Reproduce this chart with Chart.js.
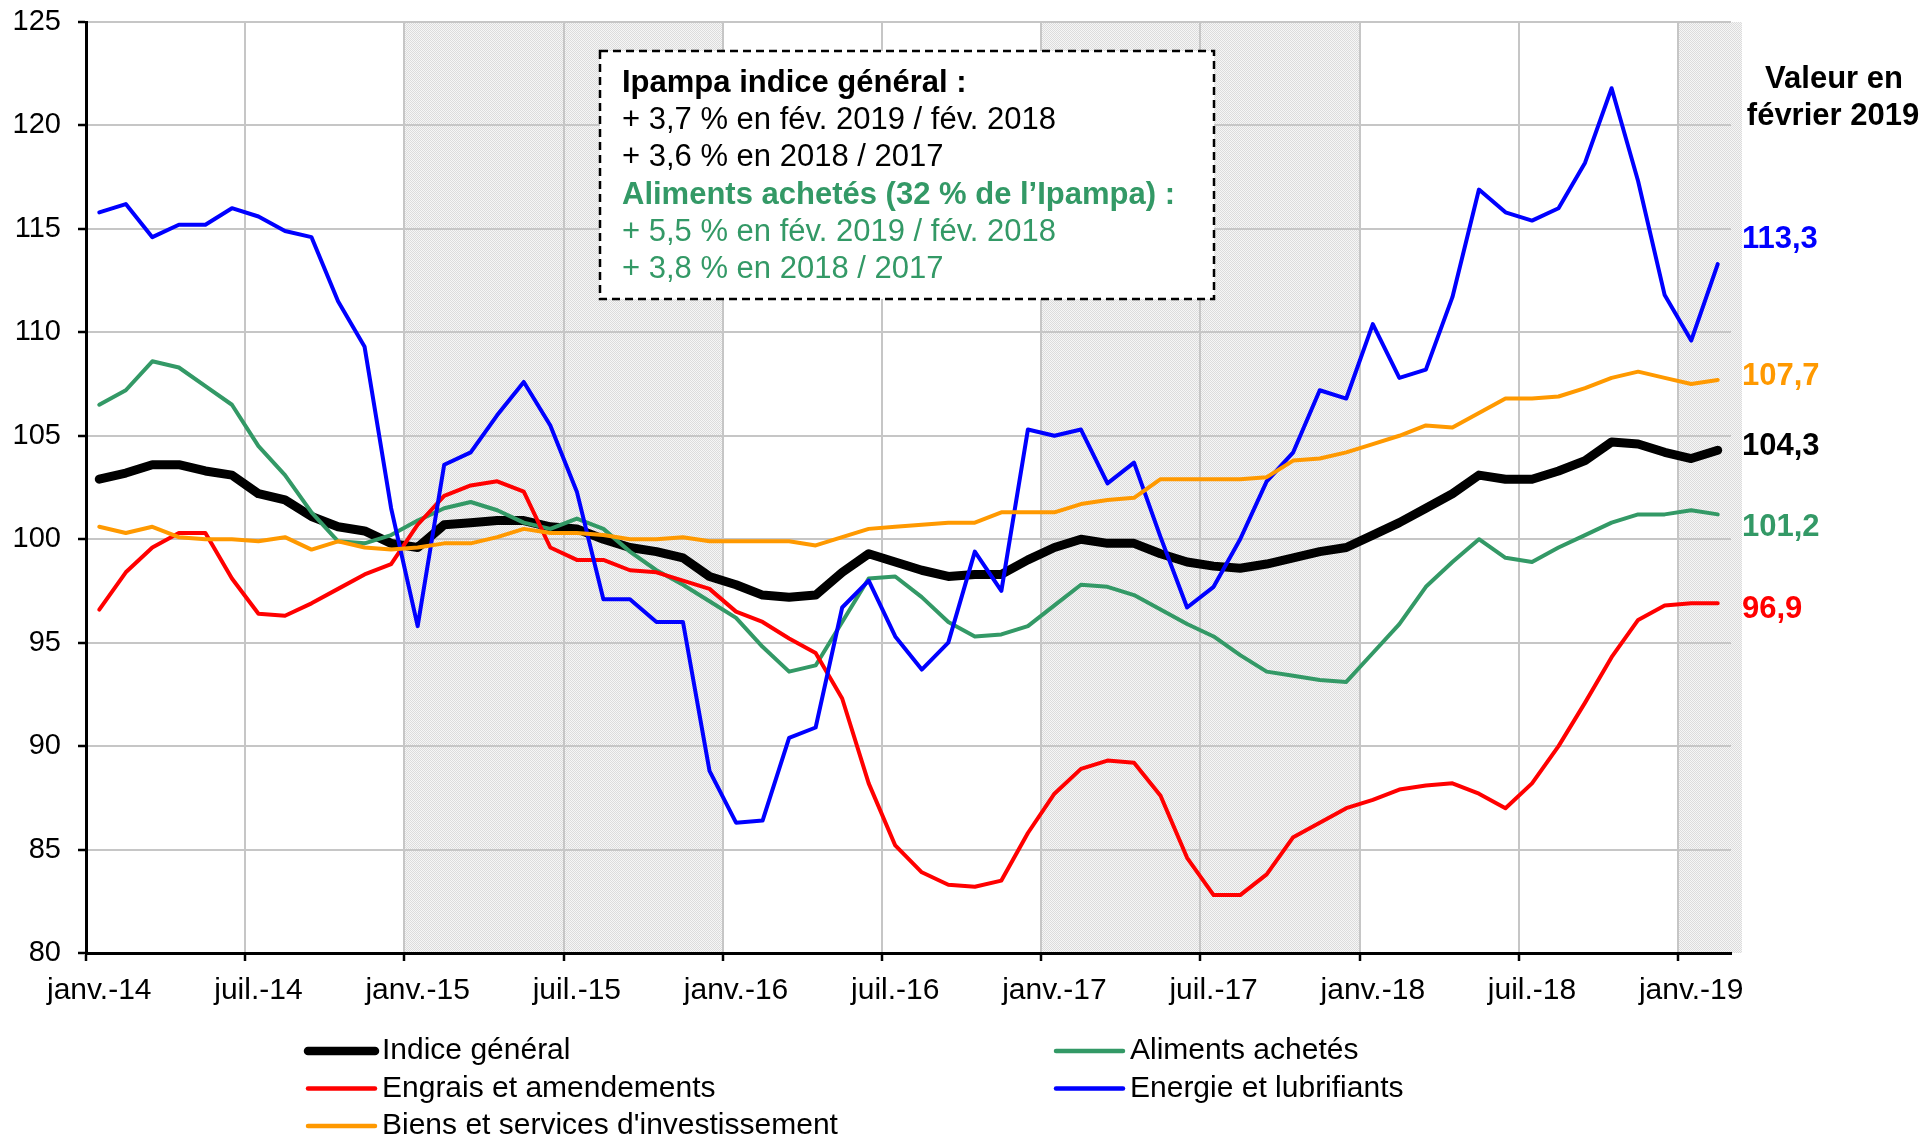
<!DOCTYPE html>
<html lang="fr">
<head>
<meta charset="utf-8">
<title>Ipampa – indices mensuels</title>
<script src="https://cdn.jsdelivr.net/npm/chart.js@4.4.1/dist/chart.umd.min.js"></script>
<style>
  html, body { margin: 0; padding: 0; background: #fff; }
  #wrap { width: 1921px; height: 1138px; }
</style>
</head>
<body>
<div id="wrap"><canvas id="chart-ipampa" width="1921" height="1138"></canvas></div>
<script>
// ---------- Données (base 100 = 2015) ----------
const MOIS   = ["janv.", "févr.", "mars", "avr.", "mai", "juin", "juil.", "août", "sept.", "oct.", "nov.", "déc."];
const ANNEES = ["14", "15", "16", "17", "18", "19"];
const NB_MOIS = 62; // janv. 2014 -> févr. 2019

const indiceGeneral = [
  102.9, 103.2, 103.6, 103.6, 103.3, 103.1, 102.2, 101.9, 101.1, 100.6, 100.4, 99.8,
  99.6, 100.7, 100.8, 100.9, 100.9, 100.6, 100.5, 100.0, 99.6, 99.4, 99.1, 98.2,
  97.8, 97.3, 97.2, 97.3, 98.4, 99.3, 98.9, 98.5, 98.2, 98.3, 98.3, 99.0,
  99.6, 100.0, 99.8, 99.8, 99.3, 98.9, 98.7, 98.6, 98.8, 99.1, 99.4, 99.6,
  100.2, 100.8, 101.5, 102.2, 103.1, 102.9, 102.9, 103.3, 103.8, 104.7, 104.6, 104.2,
  103.9, 104.3
];
const alimentsAchetes = [
  106.5, 107.2, 108.6, 108.3, 107.4, 106.5, 104.5, 103.1, 101.3, 99.9, 99.8, 100.2,
  100.9, 101.5, 101.8, 101.4, 100.8, 100.5, 101.0, 100.5, 99.4, 98.5, 97.8, 97.0,
  96.2, 94.8, 93.6, 93.9, 96.0, 98.1, 98.2, 97.2, 96.0, 95.3, 95.4, 95.8,
  96.8, 97.8, 97.7, 97.3, 96.6, 95.9, 95.3, 94.4, 93.6, 93.4, 93.2, 93.1,
  94.5, 95.9, 97.7, 98.9, 100.0, 99.1, 98.9, 99.6, 100.2, 100.8, 101.2, 101.2,
  101.4, 101.2
];
const engrais = [
  96.6, 98.4, 99.6, 100.3, 100.3, 98.1, 96.4, 96.3, 96.9, 97.6, 98.3, 98.8,
  100.7, 102.1, 102.6, 102.8, 102.3, 99.6, 99.0, 99.0, 98.5, 98.4, 98.0, 97.6,
  96.5, 96.0, 95.2, 94.5, 92.3, 88.2, 85.2, 83.9, 83.3, 83.2, 83.5, 85.8,
  87.7, 88.9, 89.3, 89.2, 87.6, 84.6, 82.8, 82.8, 83.8, 85.6, 86.3, 87.0,
  87.4, 87.9, 88.1, 88.2, 87.7, 87.0, 88.2, 90.0, 92.1, 94.3, 96.1, 96.8,
  96.9, 96.9
];
const energie = [
  115.8, 116.2, 114.6, 115.2, 115.2, 116.0, 115.6, 114.9, 114.6, 111.5, 109.3, 101.5,
  95.8, 103.6, 104.2, 106.0, 107.6, 105.5, 102.3, 97.1, 97.1, 96.0, 96.0, 88.8,
  86.3, 86.4, 90.4, 90.9, 96.7, 98.0, 95.3, 93.7, 95.0, 99.4, 97.5, 105.3,
  105.0, 105.3, 102.7, 103.7, 100.1, 96.7, 97.7, 100.0, 102.8, 104.2, 107.2, 106.8,
  110.4, 107.8, 108.2, 111.7, 116.9, 115.8, 115.4, 116.0, 118.2, 121.8, 117.3, 111.8,
  109.6, 113.3
];
const biensServices = [
  100.6, 100.3, 100.6, 100.1, 100.0, 100.0, 99.9, 100.1, 99.5, 99.9, 99.6, 99.5,
  99.6, 99.8, 99.8, 100.1, 100.5, 100.3, 100.3, 100.2, 100.0, 100.0, 100.1, 99.9,
  99.9, 99.9, 99.9, 99.7, 100.1, 100.5, 100.6, 100.7, 100.8, 100.8, 101.3, 101.3,
  101.3, 101.7, 101.9, 102.0, 102.9, 102.9, 102.9, 102.9, 103.0, 103.8, 103.9, 104.2,
  104.6, 105.0, 105.5, 105.4, 106.1, 106.8, 106.8, 106.9, 107.3, 107.8, 108.1, 107.8,
  107.5, 107.7
];

// années grisées (indices de mois, bornes incluses)
const BANDES = [[12, 23], [36, 47], [60, 61]];

const ENCADRE = [
  { txt: "Ipampa indice général :",               color: "#000000", bold: true },
  { txt: "+ 3,7 % en fév. 2019 / fév. 2018",      color: "#000000", bold: false },
  { txt: "+ 3,6 % en 2018 / 2017",                color: "#000000", bold: false },
  { txt: "Aliments achetés (32 % de l’Ipampa) :", color: "#339966", bold: true },
  { txt: "+ 5,5 % en fév. 2019 / fév. 2018",      color: "#339966", bold: false },
  { txt: "+ 3,8 % en 2018 / 2017",                color: "#339966", bold: false }
];

// libellés "janv.-14", "févr.-14", ...
const ETIQUETTES = [];
for (let i = 0; i < NB_MOIS; i++) ETIQUETTES.push(MOIS[i % 12] + "-" + ANNEES[Math.floor(i / 12)]);

// ---------- Styles des séries ----------
const SERIES = [
  { label: "Indice général",                    data: indiceGeneral,   color: "#000000", width: 9, labelDy: -4 },
  { label: "Aliments achetés",                  data: alimentsAchetes, color: "#339966", width: 4, labelDy: 13 },
  { label: "Engrais et amendements",            data: engrais,         color: "#ff0000", width: 4, labelDy: 6 },
  { label: "Energie et lubrifiants",            data: energie,         color: "#0000ff", width: 4, labelDy: -25 },
  { label: "Biens et services d'investissement", data: biensServices,  color: "#ff9900", width: 4, labelDy: -3 }
];

const FONT = "'Liberation Sans', Arial, sans-serif";
Chart.defaults.font.family = FONT;
Chart.defaults.color = "#000";

// ---------- Plugins ----------
function motifGris(ctx) {
  const c = document.createElement("canvas");
  c.width = 2; c.height = 2;
  const p = c.getContext("2d");
  p.fillStyle = "#f6f6f6"; p.fillRect(0, 0, 2, 2);
  p.fillStyle = "#dcdcdc"; p.fillRect(0, 0, 1, 1); p.fillRect(1, 1, 1, 1);
  return ctx.createPattern(c, "repeat");
}

const fondAnnees = {
  id: "fondAnnees",
  beforeDraw(chart) {
    const { ctx, chartArea, scales: { x } } = chart;
    const half = (x.getPixelForValue(1) - x.getPixelForValue(0)) / 2;
    ctx.save();
    ctx.fillStyle = motifGris(ctx);
    for (const [a, b] of BANDES) {
      const x0 = x.getPixelForValue(a) - half;
      let x1 = x.getPixelForValue(b) + half;
      if (b === NB_MOIS - 1) x1 += 11;
      ctx.fillRect(x0, chartArea.top, x1 - x0, chartArea.bottom - chartArea.top);
    }
    ctx.restore();
  }
};

const annotations = {
  id: "annotations",
  afterDraw(chart) {
    const { ctx, chartArea, scales: { y } } = chart;
    ctx.save();

    // encadré des évolutions
    ctx.fillStyle = "#fff";
    ctx.fillRect(600, 51, 614, 248);
    ctx.setLineDash([8, 5]);
    ctx.lineWidth = 2.5;
    ctx.strokeStyle = "#000";
    ctx.strokeRect(600, 51, 614, 248);
    ctx.setLineDash([]);
    ctx.textAlign = "left";
    ctx.textBaseline = "alphabetic";
    ENCADRE.forEach((l, i) => {
      ctx.font = (l.bold ? "bold " : "") + "31px " + FONT;
      ctx.fillStyle = l.color;
      ctx.fillText(l.txt, 622, 92 + i * 37.2);
    });

    // valeurs de février 2019
    ctx.textBaseline = "middle";
    ctx.textAlign = "center";
    ctx.font = "bold 31px " + FONT;
    ctx.fillStyle = "#000";
    ctx.fillText("Valeur en", 1834, 79);
    ctx.fillText("février 2019", 1833, 116);
    ctx.textAlign = "left";
    SERIES.forEach(s => {
      const v = s.data[s.data.length - 1];
      ctx.fillStyle = s.color;
      ctx.fillText(v.toLocaleString("fr-FR", { minimumFractionDigits: 1 }),
        chartArea.right + 11, y.getPixelForValue(v) + s.labelDy);
    });

    // légende sur deux colonnes
    ctx.font = "30px " + FONT;
    ctx.textBaseline = "middle";
    ctx.lineCap = "round";
    SERIES.forEach((s, i) => {
      const col = i % 2, row = Math.floor(i / 2);
      const lx = 306 + col * 748, ly = 1051 + row * 37.5;
      ctx.strokeStyle = s.color;
      ctx.lineWidth = s.width === 9 ? 8.5 : 4.5;
      ctx.beginPath();
      ctx.moveTo(lx + 2, ly);
      ctx.lineTo(lx + 69, ly);
      ctx.stroke();
      ctx.fillStyle = "#000";
      ctx.fillText(s.label, lx + 76, ly);
    });
    ctx.restore();
  }
};

// ---------- Graphe ----------
const gridCouleur = "#c6c6c6";

new Chart(document.getElementById("chart-ipampa"), {
  type: "line",
  data: {
    labels: ETIQUETTES,
    datasets: SERIES.map((s, i) => ({
      label: s.label,
      data: s.data,
      borderColor: s.color,
      backgroundColor: s.color,
      borderWidth: s.width,
      pointRadius: 0,
      pointHoverRadius: 0,
      tension: 0,
      fill: false,
      borderJoinStyle: "round",
      borderCapStyle: "round",
      order: SERIES.length - i // indice général dessous
    }))
  },
  options: {
    responsive: false,
    animation: false,
    layout: { padding: { top: 22, right: 190, bottom: 0, left: 0 } },
    plugins: { legend: { display: false }, tooltip: { enabled: false } },
    scales: {
      x: {
        type: "category",
        offset: true,
        grid: {
          offset: true,
          color: c => c.index % 6 === 0 ? gridCouleur : "transparent",
          lineWidth: 2,
          tickColor: c => c.index % 6 === 0 ? "#000" : "transparent",
          tickLength: 8,
          tickWidth: 2.5
        },
        border: { color: "#000", width: 3 },
        ticks: {
          autoSkip: false,
          maxRotation: 0,
          minRotation: 0,
          padding: 12,
          color: "#000",
          font: { size: 30 },
          callback: (v, i) => i % 6 === 0 ? ETIQUETTES[i] : ""
        },
        afterFit: s => { s.height = 185; }
      },
      y: {
        min: 80,
        max: 125,
        ticks: { stepSize: 5, color: "#000", font: { size: 29 }, padding: 17 },
        grid: { color: gridCouleur, lineWidth: 2, tickColor: "#000", tickLength: 8, tickWidth: 2.5 },
        border: { color: "#000", width: 3 },
        // largeur fixe, et pas de marge haute ajoutée pour le libellé 125
        afterFit: s => { s.width = 86; s.paddingTop = 0; s.paddingBottom = 0; }
      }
    }
  },
  plugins: [fondAnnees, annotations]
});
</script>
</body>
</html>
